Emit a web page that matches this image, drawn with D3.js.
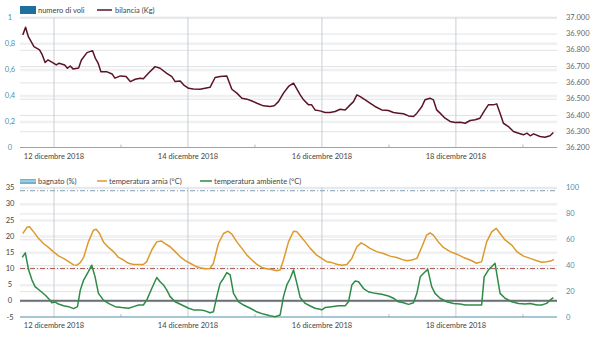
<!DOCTYPE html>
<html>
<head>
<meta charset="utf-8">
<script src="https://cdn.jsdelivr.net/npm/d3@7"></script>
<style>
  body { margin: 0; background: #fff; }
  svg { display: block; font-family: Lato, "Open Sans", sans-serif; }
</style>
</head>
<body>
<div id="chart"></div>
<script>
// hours counted from 12 dicembre 2018 00:00
const labelHours = [0, 48, 96, 144];
const labelTexts = ["12 dicembre 2018", "14 dicembre 2018", "16 dicembre 2018", "18 dicembre 2018"];
const minorHours = [24, 72, 120, 168];

// top panel ticks
const voliTicks = [0, 0.2, 0.4, 0.6, 0.8, 1];
const kgTicks = [36.2, 36.3, 36.4, 36.5, 36.6, 36.7, 36.8, 36.9, 37.0];

// bottom panel ticks
const tempTicks = [-5, 0, 5, 10, 15, 20, 25, 30, 35];
const pctTicks = [0, 20, 40, 60, 80, 100];
const soglie = [34, 10]; // dash-dot reference lines (°C)

// bilancia (Kg): [ore, valore]
const bilancia = [
  [-11, 36.892], [-10, 36.939], [-9, 36.881], [-7, 36.820], [-5, 36.800], [-4, 36.769],
  [-3, 36.722], [-2, 36.738], [0, 36.718], [1, 36.707], [2, 36.718], [4, 36.707],
  [5, 36.687], [6, 36.701], [7, 36.683], [9, 36.689], [10, 36.738], [12, 36.783],
  [14, 36.795], [15, 36.748], [16, 36.718], [17, 36.666], [19, 36.666], [21, 36.652],
  [22, 36.626], [24, 36.640], [26, 36.636], [27.5, 36.605], [29.3, 36.619], [31.1, 36.626],
  [32.2, 36.622], [34, 36.656], [36.4, 36.697], [38.2, 36.687], [40.6, 36.656], [42.4, 36.636],
  [43.6, 36.605], [45.4, 36.609], [46.6, 36.585], [48.4, 36.564], [50.1, 36.560], [52.5, 36.558],
  [54.3, 36.564], [56.1, 36.570], [57.9, 36.630], [59.7, 36.636], [62.1, 36.640], [63.9, 36.558],
  [65.7, 36.534], [67.5, 36.503], [69.3, 36.497], [71.1, 36.486], [72.9, 36.472], [75.2, 36.456],
  [77.6, 36.452], [79.1, 36.456], [80.6, 36.482], [82.4, 36.534], [84.2, 36.575], [86.0, 36.595],
  [88.4, 36.523], [89.6, 36.493], [91.4, 36.462], [92.5, 36.462], [93.7, 36.431], [95.5, 36.425],
  [97.3, 36.415], [99.1, 36.415], [100.9, 36.421], [102.7, 36.435], [104.5, 36.431], [106.3, 36.462],
  [107.5, 36.482], [108.7, 36.523], [109.9, 36.513], [111.7, 36.493], [113.4, 36.472], [115.2, 36.452],
  [117.6, 36.431], [120.0, 36.427], [121.8, 36.415], [123.6, 36.411], [125.4, 36.407], [127.2, 36.394],
  [129.0, 36.390], [130.2, 36.411], [132.0, 36.452], [133.1, 36.493], [134.9, 36.503], [136.1, 36.493],
  [137.3, 36.431], [138.5, 36.411], [140.3, 36.380], [142.1, 36.360], [143.9, 36.353], [145.7, 36.355],
  [147.5, 36.349], [149.3, 36.366], [151.1, 36.370], [152.8, 36.380], [154.6, 36.431], [155.8, 36.462],
  [157.6, 36.462], [158.8, 36.468], [160.0, 36.411], [161.2, 36.349], [163.0, 36.329], [164.8, 36.298],
  [166.6, 36.288], [168.4, 36.278], [169.6, 36.288], [170.8, 36.272], [172.0, 36.284], [174.3, 36.268],
  [176.1, 36.263], [177.9, 36.272], [179.1, 36.292]
];

// temperatura arnia (°C): [ore, valore]
const arnia = [
  [-11, 20.8], [-9.5, 22.7], [-8.6, 22.9], [-7.1, 21.3], [-5.4, 19.3], [-3.6, 17.7], [-1.8, 16.5],
  [0, 15.1], [1.8, 13.9], [3.6, 13.1], [5.4, 12.1], [7.2, 11.1], [8.4, 11.0], [9.6, 11.8],
  [10.8, 13.4], [12.5, 18.2], [14.3, 21.8], [15.3, 22.1], [16.5, 20.8], [17.9, 18.2], [19.7, 16.5],
  [21.5, 15.2], [23.3, 13.4], [25.1, 12.6], [26.9, 11.6], [28.7, 11.2], [30.5, 11.2], [32.2, 11.2],
  [33.4, 12.1], [35.2, 15.7], [37.0, 18.2], [38.6, 18.5], [40.0, 17.7], [41.8, 16.7], [43.6, 15.2],
  [45.4, 13.6], [47.2, 12.4], [49.0, 11.6], [50.8, 10.7], [52.5, 10.2], [54.3, 9.9], [56.1, 10.0],
  [57.3, 11.6], [59.1, 17.7], [60.9, 20.8], [62.5, 21.5], [63.9, 20.6], [65.7, 18.2], [67.5, 16.2],
  [69.3, 14.1], [71.1, 12.6], [72.8, 11.3], [74.6, 10.3], [76.4, 9.9], [78.2, 9.7], [80.0, 9.3],
  [81.2, 9.5], [82.4, 12.6], [84.2, 18.2], [86.0, 21.5], [87.2, 21.3], [88.4, 20.1], [90.2, 18.2],
  [92.0, 16.2], [94.3, 14.1], [96.1, 13.1], [97.9, 12.1], [99.7, 11.8], [101.5, 11.3], [103.3, 11.0],
  [105.1, 11.2], [106.9, 13.1], [108.7, 16.7], [110.2, 17.9], [111.7, 17.2], [113.4, 16.2], [115.8, 15.2],
  [118.2, 14.6], [120.6, 13.8], [123.0, 13.4], [124.8, 12.8], [126.6, 12.4], [128.4, 12.6], [130.2, 13.1],
  [132.0, 16.7], [133.7, 20.3], [134.9, 21.0], [136.1, 20.3], [137.9, 18.2], [139.7, 16.5], [142.1, 15.2],
  [144.5, 14.4], [146.9, 13.4], [149.3, 12.6], [151.6, 11.6], [153.4, 12.1], [155.2, 18.2], [157.0, 21.3],
  [158.6, 22.4], [160.0, 20.8], [161.8, 18.8], [164.2, 17.2], [166.0, 15.2], [168.4, 13.8], [170.8, 13.1],
  [173.2, 12.4], [174.9, 11.9], [176.7, 12.1], [178.5, 12.4], [179.3, 12.8]
];

// temperatura ambiente (°C): [ore, valore]
const ambiente = [
  [-11.2, 13.4], [-10.1, 14.8], [-8.9, 9.5], [-7.7, 6.4], [-6.6, 4.4], [-4.8, 3.1], [-3.0, 1.8],
  [-1.2, 0.2], [-0.6, -0.6], [0.6, -0.4], [1.8, -1.0], [3.6, -1.5], [5.4, -1.8], [7.2, -2.4],
  [8.6, -1.8], [9.6, 3.3], [10.8, 6.4], [12.5, 9.0], [13.7, 11.0], [14.9, 7.4], [16.1, 2.3],
  [17.9, 0.2], [19.7, -0.8], [22.1, -1.8], [24.5, -2.1], [26.9, -2.3], [28.7, -1.8], [30.5, -1.3],
  [32.2, -1.3], [33.4, 0.2], [35.2, 3.8], [37.0, 7.2], [38.2, 5.9], [39.4, 4.9], [40.6, 3.3],
  [41.8, 1.3], [43.6, -0.3], [46.0, -1.3], [48.4, -2.3], [50.2, -2.8], [52.5, -2.8], [54.3, -3.1],
  [56.1, -3.7], [57.3, -3.4], [58.5, 1.3], [59.7, 5.4], [60.9, 6.9], [62.1, 8.7], [63.3, 8.0],
  [64.5, 2.3], [66.3, -0.3], [68.1, -1.3], [70.5, -2.3], [72.8, -3.4], [75.2, -4.1], [77.6, -4.6],
  [79.4, -4.9], [81.2, -4.4], [82.4, 1.3], [83.6, 4.9], [84.8, 6.9], [86.0, 9.5], [87.2, 5.4],
  [88.4, 1.0], [90.2, -0.8], [92.0, -1.6], [93.7, -2.3], [95.5, -2.6], [96.1, -2.8], [97.3, -2.1],
  [99.7, -1.8], [102.1, -1.5], [104.5, -1.5], [105.7, -0.3], [106.9, 4.9], [108.1, 6.1], [109.3, 5.9],
  [111.1, 3.8], [112.8, 2.8], [115.2, 2.3], [117.6, 2.0], [120.0, 1.5], [121.8, 0.8], [123.6, -0.3],
  [125.4, -0.6], [127.2, -1.1], [129.0, -0.6], [130.2, 2.3], [131.4, 7.4], [132.6, 8.5], [134.1, 9.7],
  [135.5, 4.4], [136.7, 2.3], [138.5, 0.8], [140.9, -0.3], [143.3, -0.8], [145.7, -1.0], [147.5, -1.3],
  [149.3, -1.3], [151.6, -1.3], [153.4, -1.3], [154.3, 7.4], [155.8, 9.5], [158.2, 11.6], [160.0, 2.3],
  [161.8, 0.8], [164.2, -0.3], [166.6, -0.8], [169.0, -1.0], [170.8, -0.8], [173.2, -1.3], [174.9, -1.3],
  [176.7, -0.8], [177.9, 0.2], [179.1, 1.0]
];

const W = 600, H = 344;
const left = 20, right = 557;
const teal = "#4f8fa8";
const fs = "7.5px";

const svg = d3.select("#chart").append("svg")
  .attr("width", W).attr("height", H);

const x = d3.scaleLinear().domain([-12, 180.4]).range([left, right]);

// draws grids, vertical day lines and the x axis for one panel
function drawFrame(top, bottom, axisColor) {
  // vertical lines at labelled days
  svg.append("g")
    .attr("transform", "translate(0," + bottom + ")")
    .call(d3.axisBottom(x).tickValues(labelHours).tickSize(-(bottom - top)).tickFormat(""))
    .call(g => g.select(".domain").remove())
    .call(g => g.selectAll("line").attr("stroke", "#c9ced4").attr("stroke-width", 1));

  // minor ticks at odd days
  svg.append("g")
    .attr("transform", "translate(0," + bottom + ")")
    .call(d3.axisBottom(x).tickValues(minorHours).tickSize(-3).tickFormat(""))
    .call(g => g.select(".domain").remove())
    .call(g => g.selectAll("line").attr("stroke", "#b8bec4"));

  // axis with labels
  const ax = svg.append("g")
    .attr("transform", "translate(0," + bottom + ")")
    .call(d3.axisBottom(x).tickValues(labelHours).tickSize(0).tickPadding(6)
      .tickFormat((d, i) => labelTexts[i]));
  ax.select(".domain").attr("d", "M" + left + ",0H" + right).attr("stroke", axisColor).attr("stroke-width", 1);
  ax.selectAll("text").attr("fill", "#444").style("font-size", fs).style("font-family", "Lato, sans-serif");
}

function gridLines(scale, ticks, width, color) {
  svg.append("g")
    .attr("transform", "translate(" + left + ",0)")
    .call(d3.axisLeft(scale).tickValues(ticks).tickSize(-(right - left)).tickFormat(""))
    .call(g => g.select(".domain").remove())
    .call(g => g.selectAll("line").attr("stroke", color).attr("stroke-width", width));
}

function sideLabels(scale, ticks, xPos, anchor, color, fmt) {
  svg.append("g").selectAll("text")
    .data(ticks).enter()
    .append("text")
    .attr("x", xPos)
    .attr("y", d => scale(d))
    .attr("dy", "0.35em")
    .attr("text-anchor", anchor)
    .attr("fill", color)
    .style("font-size", fs)
    .text(fmt);
}

function legendText(xPos, yPos, txt) {
  svg.append("text").attr("x", xPos).attr("y", yPos).attr("dy", "0.35em")
    .style("font-size", fs).attr("fill", "#444").text(txt);
}

/* ---------- top panel ---------- */
const topY0 = 147.5, topY1 = 17.3;
const yVoli = d3.scaleLinear().domain([0, 1]).range([topY0, topY1]);
const yKg = d3.scaleLinear().domain([36.2, 37.0]).range([topY0, topY1]);

gridLines(yVoli, voliTicks.slice(1), 2.5, "#eef0f1");
gridLines(yKg, kgTicks.slice(1), 1, "#dfe2e5");
drawFrame(topY1, topY0, "#9aa3aa");

sideLabels(yVoli, voliTicks, 10, "middle", teal, d => d3.format(".1f")(d).replace(".", ",").replace(",0", ""));
sideLabels(yKg, kgTicks, 566, "start", "#666", d => d3.format(".3f")(d));

svg.append("path")
  .datum(bilancia)
  .attr("fill", "none")
  .attr("stroke", "#5b1426")
  .attr("stroke-width", 1.5)
  .attr("stroke-linejoin", "round")
  .attr("d", d3.line().x(d => x(d[0])).y(d => yKg(d[1])));

// top legend
svg.append("rect").attr("x", 20).attr("y", 6).attr("width", 16).attr("height", 8).attr("fill", "#1f6f9f");
legendText(38, 10, "numero di voli");
svg.append("line").attr("x1", 97).attr("x2", 112).attr("y1", 10).attr("y2", 10).attr("stroke", "#5b1426").attr("stroke-width", 1.5);
legendText(115, 10, "bilancia (Kg)");

/* ---------- bottom panel ---------- */
const botY0 = 317, botY1 = 187.5;
const yTemp = d3.scaleLinear().domain([-5, 35]).range([botY0, botY1]);
const yPct = d3.scaleLinear().domain([0, 100]).range([botY0, botY1]);

gridLines(yTemp, tempTicks.slice(1), 2.5, "#eef0f1");
gridLines(yPct, pctTicks.slice(1), 1, "#dfe2e5");
drawFrame(botY1, botY0, teal);

// zero line
svg.append("line")
  .attr("x1", left).attr("x2", right)
  .attr("y1", yTemp(0)).attr("y2", yTemp(0))
  .attr("stroke", "#6b6f73").attr("stroke-width", 2);

// dash-dot reference lines
const sogliaColors = ["#7f9fb6", "#a85a55"];
svg.append("g").selectAll("line")
  .data(soglie).enter()
  .append("line")
  .attr("x1", left).attr("x2", right)
  .attr("y1", d => yTemp(d)).attr("y2", d => yTemp(d))
  .attr("stroke", (d, i) => sogliaColors[i])
  .attr("stroke-width", 1)
  .attr("stroke-dasharray", "5,2,1,2");

sideLabels(yTemp, tempTicks, 10, "middle", "#444", d => d);
sideLabels(yPct, pctTicks, 566, "start", teal, d => d);

const tempLine = d3.line().x(d => x(d[0])).y(d => yTemp(d[1]));
svg.append("path").datum(arnia)
  .attr("fill", "none").attr("stroke", "#dc9a2c").attr("stroke-width", 1.5)
  .attr("stroke-linejoin", "round").attr("d", tempLine);
svg.append("path").datum(ambiente)
  .attr("fill", "none").attr("stroke", "#2f8a47").attr("stroke-width", 1.5)
  .attr("stroke-linejoin", "round").attr("d", tempLine);

// bottom legend
const ly = 181;
svg.append("rect").attr("x", 20).attr("y", ly - 2).attr("width", 16).attr("height", 5).attr("fill", "#6fb2d2");
svg.append("rect").attr("x", 20).attr("y", ly - 0.5).attr("width", 16).attr("height", 1.2).attr("fill", "#b9dcec");
legendText(38, ly, "bagnato (%)");
svg.append("line").attr("x1", 97).attr("x2", 107).attr("y1", ly).attr("y2", ly).attr("stroke", "#dc9a2c").attr("stroke-width", 1.5);
legendText(109, ly, "temperatura arnia (°C)");
svg.append("line").attr("x1", 200).attr("x2", 212).attr("y1", ly).attr("y2", ly).attr("stroke", "#2f8a47").attr("stroke-width", 1.5);
legendText(214, ly, "temperatura ambiente (°C)");
</script>
</body>
</html>
